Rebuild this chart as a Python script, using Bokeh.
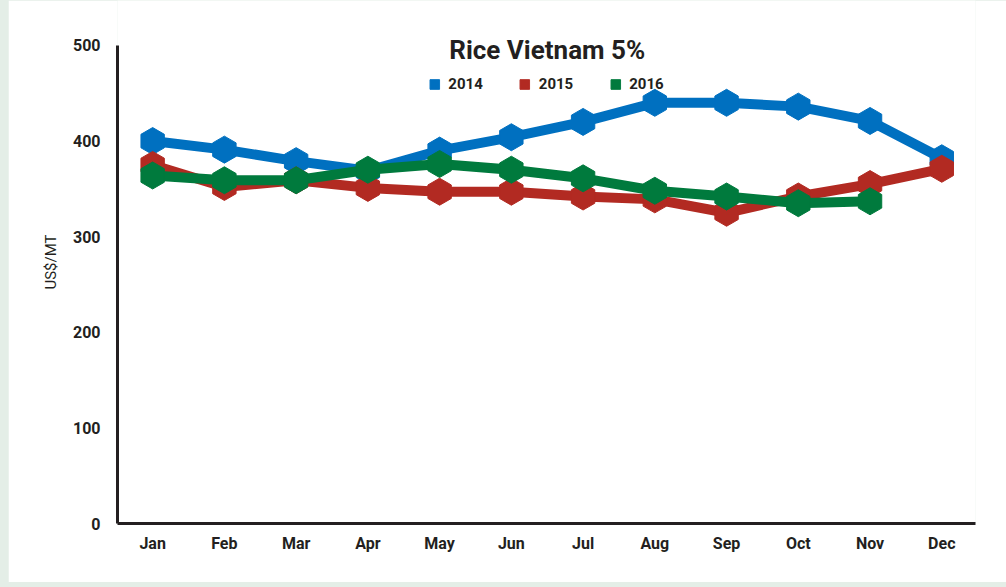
import math
from bokeh.plotting import figure
from bokeh.layouts import column
from bokeh.models import FixedTicker, Legend, LegendItem, Label, ColumnDataSource
from bokeh.embed import file_html
from bokeh.resources import INLINE

months = ["Jan", "Feb", "Mar", "Apr", "May", "Jun", "Jul", "Aug", "Sep", "Oct", "Nov", "Dec"]
y2014 = [400, 391, 379, 369, 390, 404, 420, 440, 440, 436, 421, 382]
y2015 = [375, 352, 359, 351, 347, 347, 342, 339, 325, 342, 355, 371]
y2016 = [364, 359, 359, 370, 376, 370, 361, 348, 342, 335, 337]
series = [("2014", y2014, "#0070c0"), ("2015", y2015, "#b22a22"), ("2016", y2016, "#007a3d")]
y_ticks = [0, 100, 200, 300, 400, 500]

FONT = "Roboto"

p = figure(width=998, height=582, output_backend="svg", toolbar_location=None,
           x_range=(-0.49, 11.47), y_range=(0, 547),
           min_border_left=109, min_border_right=31, min_border_top=0, min_border_bottom=59)
p.outline_line_color = None
p.grid.visible = False
p.background_fill_color = "white"
p.border_fill_color = "white"

p.xaxis.ticker = FixedTicker(ticks=list(range(12)))
p.xaxis.major_label_overrides = {i: m for i, m in enumerate(months)}
p.yaxis.ticker = FixedTicker(ticks=y_ticks)
p.yaxis.bounds = (0, 500)
for ax in (p.xaxis, p.yaxis):
    ax.axis_line_width = 3
    ax.axis_line_color = "#231f20"
    ax.major_tick_line_color = None
    ax.minor_tick_line_color = None
    ax.major_label_text_font = FONT
    ax.major_label_text_font_style = "bold"
    ax.major_label_text_font_size = "16px"
    ax.major_label_text_color = "#231f20"
p.xaxis.major_label_standoff = 4
p.yaxis.major_label_standoff = 11
p.yaxis.axis_label = "US$/MT"
p.yaxis.axis_label_text_font = FONT
p.yaxis.axis_label_text_font_style = "normal"
p.yaxis.axis_label_text_font_size = "15px"
p.yaxis.axis_label_text_color = "#231f20"
p.yaxis.axis_label_standoff = 10

items = []
for name, vals, color in series:
    src = ColumnDataSource(dict(x=list(range(len(vals))), y=vals))
    p.line("x", "y", source=src, line_color=color, line_width=10)
    p.scatter("x", "y", source=src, marker="hex", size=27, angle=math.pi / 2,
              fill_color=color, line_color=color)
    leg = p.quad(left=[math.nan], right=[math.nan], top=[math.nan], bottom=[math.nan],
                 fill_color=color, line_color=color)
    items.append(LegendItem(label=name, renderers=[leg]))

legend = Legend(items=items, orientation="horizontal", location="top_center",
                border_line_color=None, background_fill_alpha=0,
                label_text_font=FONT, label_text_font_style="bold", label_text_font_size="15px",
                label_text_color="#231f20", glyph_width=12, glyph_height=12,
                spacing=36, margin=75, padding=0, label_standoff=8)
p.add_layout(legend, "center")

title = Label(x=5.5, y=495, text="Rice Vietnam 5%", text_font=FONT, text_font_style="bold",
              text_font_size="26px", text_color="#231f20", text_align="center",
              text_baseline="middle")
p.add_layout(title)

layout = column(p, styles={"background-color": "#e4eee7", "padding": "0 0 5px 8px"})
open("out.html", "w").write(file_html(layout, INLINE))
